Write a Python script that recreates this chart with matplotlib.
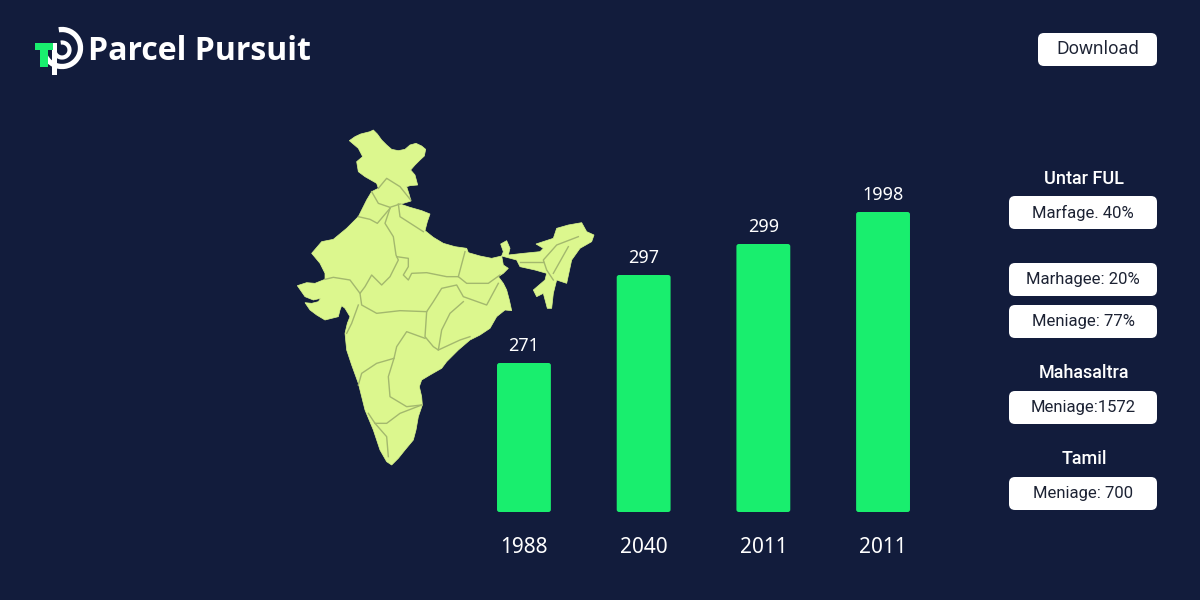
import matplotlib
matplotlib.use("Agg")
import matplotlib.pyplot as plt
from matplotlib.patches import FancyBboxPatch, Polygon, Arc, Rectangle

# bars
years = ["1988", "2040", "2011", "2011"]
bar_labels = ["271", "297", "299", "1998"]
bar_heights = [149, 237, 268, 300]

# side panel
headers = ["Untar FUL", "Mahasaltra", "Tamil"]
header_y = [179, 373, 459]
box_texts = ["Marfage. 40%", "Marhagee: 20%", "Meniage: 77%", "Meniage:1572", "Meniage: 700"]
box_y = [212.5, 279.5, 321.5, 407.5, 493.5]

india_main = [(178,62),(195,50),(212,42),(240,35),(250,30),(262,42),(275,60),(290,75),(305,88),(325,92),
              (345,88),(360,75),(378,70),(395,78),(407,88),(403,108),(390,120),(375,135),(362,150),(375,165),
              (383,195),(360,197),(350,200),(358,225),(363,243),(340,250),(330,252),(360,262),(395,272),(420,282),
              (412,305),(405,332),(430,352),(460,370),(495,380),(530,385),(535,398),(570,408),(605,415),(635,408),
              (640,435),(655,445),(640,460),(625,470),(640,490),(650,510),(658,540),(665,572),(645,570),(620,590),
              (600,625),(570,645),(540,660),(505,690),(470,725),(455,745),(420,765),(395,780),(388,800),(395,830),
              (397,855),(385,890),(378,930),(370,960),(345,990),(325,1015),(305,1035),(290,1025),(270,990),(250,930),
              (225,870),(205,790),(185,735),(170,690),(165,640),(172,610),(180,590),(165,565),(155,557),(150,570),
              (145,590),(105,600),(80,585),(60,570),(45,548),(65,550),(85,545),(92,535),(70,540),(45,530),
              (22,497),(50,488),(75,490),(105,478),(105,460),(90,430),(65,400),(95,365),(130,358),(170,325),
              (205,290),(230,240),(245,215),(265,205),(260,190),(225,170),(205,155),(200,125),(218,110),(205,85)]
india_east = [(632,372),(650,362),(660,385),(655,405),(700,400),(750,395),(760,385),(738,372),(790,355),(800,325),
              (835,315),(875,308),(890,335),(912,345),(905,365),(870,385),(845,420),(830,490),(800,480),(790,520),
              (785,565),(772,565),(760,520),(740,530),(730,510),(765,480),(770,460),(735,450),(690,440),(680,420),
              (650,412),(635,408),(640,395)]
state_borders = [
    [(265,205),(290,175),(330,200),(362,240)],
    [(245,215),(265,250),(300,262),(330,252)],
    [(205,290),(240,298),(262,310),(300,265)],
    [(300,265),(285,310),(310,350),(318,405),(325,420),(300,470),(275,495),(245,465),(225,500),(210,520),(180,480),(130,472),(105,478)],
    [(325,252),(330,290),(400,335)],
    [(320,410),(355,415),(355,440),(340,465),(355,480),(365,460),(410,458),(470,470),(505,470),(525,395)],
    [(505,470),(530,490),(595,490),(630,465)],
    [(210,520),(215,555),(260,580),(330,572),(410,575),(430,545),(455,505),(500,495),(520,530),(590,555),(625,490)],
    [(520,545),(480,580),(455,630),(445,690),(430,680),(405,650),(410,575)],
    [(445,690),(510,660),(540,650)],
    [(205,555),(185,610),(170,640)],
    [(405,655),(350,635),(320,680),(312,715),(260,730),(215,760),(205,795)],
    [(312,715),(295,770),(300,830),(350,860),(395,855)],
    [(395,855),(330,880),(290,910),(255,910),(235,880)],
    [(255,910),(290,950),(295,1010)],
    [(865,350),(800,375),(760,420),(770,450),(790,480)],
    [(835,380),(790,460)],
    [(690,425),(760,425)],
]

BG = "#121c3c"
GREEN = "#19ee6e"
LAND = "#dcf78e"
FONT = "Noto Sans"
BOX_FONT = "Roboto"


def to_px(pts):
    return [(290 + x / 3, 120 + y / 3) for x, y in pts]


fig = plt.figure(figsize=(12, 6), dpi=100, facecolor=BG)

# full figure layer in pixel coordinates
ax = fig.add_axes([0, 0, 1, 1])
ax.set_xlim(0, 1200)
ax.set_ylim(600, 0)
ax.axis("off")

# map
ax.add_patch(Polygon(to_px(india_main), closed=True, fc=LAND, ec=LAND, lw=0.5))
ax.add_patch(Polygon(to_px(india_east), closed=True, fc=LAND, ec=LAND, lw=0.5))
for line in state_borders:
    pts = to_px(line)
    ax.plot([p[0] for p in pts], [p[1] for p in pts], color="#a3b86e", lw=1.0)

# logo
ax.add_patch(Arc((62, 48), 37, 37, theta1=-100, theta2=190, color="white", lw=3.8))
ax.add_patch(Arc((62, 50), 15, 15, theta1=-100, theta2=200, color="white", lw=3))
ax.add_patch(Rectangle((52, 43), 5, 32, fc="white", ec="none"))
ax.add_patch(Rectangle((35, 43), 18, 7, fc=GREEN, ec="none"))
ax.add_patch(Rectangle((40, 50), 8, 17, fc=GREEN, ec="none"))
ax.text(88, 51, "Parcel Pursuit", color="white", fontsize=23, fontweight="bold",
        family="Open Sans", va="center", ha="left")


def white_box(x0, x1, y0, y1, text, size=12, font=BOX_FONT):
    ax.add_patch(FancyBboxPatch((x0 + 6, y0 + 6), x1 - x0 - 12, y1 - y0 - 12,
                                boxstyle="round,pad=6,rounding_size=6", fc="white", ec="none"))
    ax.text((x0 + x1) / 2, (y0 + y1) / 2, text, color="#1c2233", fontsize=size, family=font,
            ha="center", va="center")


white_box(1038, 1157, 33, 66, "Download", 12.5, FONT)
for y, text in zip(box_y, box_texts):
    white_box(1009, 1157, y - 16.5, y + 16.5, text)
for y, text in zip(header_y, headers):
    ax.text(1084, y, text, color="white", fontsize=13, fontweight="medium", family="Roboto",
            ha="center", va="center")

# bars, one data unit is one pixel high
ax_bar = fig.add_axes([464.1 / 1200, (600 - 512) / 600, 478.8 / 1200, 312 / 600])
ax_bar.set_facecolor("none")
ax_bar.set_xlim(-0.5, 3.5)
ax_bar.set_ylim(0, 312)
xs = range(len(years))
rects = ax_bar.bar(xs, bar_heights, width=0.45, color="none")
for rect, label in zip(rects, bar_labels):
    x, w, h = rect.get_x(), rect.get_width(), rect.get_height()
    # pad 0.01 in x is 1.2 units in y because of the aspect
    ax_bar.add_patch(FancyBboxPatch((x + 0.01, 1.2), w - 0.02, h - 2.4,
                                    boxstyle="round,pad=0.01,rounding_size=0.02",
                                    mutation_aspect=119.7, fc=GREEN, ec="none"))
    ax_bar.text(x + w / 2, h + 17, label, color="white", fontsize=13, family=FONT,
                ha="center", va="center")
ax_bar.set_xticks(list(xs))
ax_bar.set_xticklabels(years, fontsize=15, color="white", family=FONT)
ax_bar.tick_params(axis="x", length=0, pad=18)
ax_bar.set_yticks([])
for spine in ax_bar.spines.values():
    spine.set_visible(False)

fig.savefig("out.png", dpi=100, facecolor=BG)
